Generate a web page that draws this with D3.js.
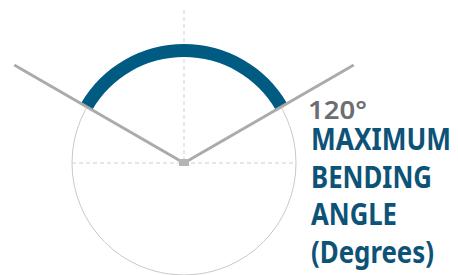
<!DOCTYPE html>
<html>
<head>
<meta charset="utf-8">
<script src="https://cdn.jsdelivr.net/npm/d3@7"></script>
<style>
  html, body { margin: 0; padding: 0; background: #fff; }
  svg { display: block; }
</style>
</head>
<body>
<div id="chart"></div>
<script>
// chart values
const maxAngle = [120];
const angleLabel = ["120°"];
const titleLines = ["MAXIMUM", "BENDING", "ANGLE", "(Degrees)"];

const width = 458, height = 275;
const cx = 184, cy = 163, radius = 112;

const svg = d3.select("#chart")
  .append("svg")
  .attr("width", width)
  .attr("height", height);

// degrees -> radians, 0 = straight up
const angleScale = d3.scaleLinear().domain([0, 360]).range([0, 2 * Math.PI]);

const g = svg.append("g").attr("transform", `translate(${cx},${cy})`);

// outline circle
g.append("circle")
  .attr("r", radius)
  .attr("fill", "none")
  .attr("stroke", "#c9c9c9")
  .attr("stroke-width", 1);

// dashed crosshair
g.append("line")
  .attr("x1", -radius).attr("x2", radius)
  .attr("y1", 0).attr("y2", 0)
  .attr("stroke", "#cfcfcf")
  .attr("stroke-dasharray", "4,3");

g.append("line")
  .attr("x1", 0).attr("x2", 0)
  .attr("y1", -153).attr("y2", 0)
  .attr("stroke", "#cfcfcf")
  .attr("stroke-dasharray", "4,3");

// the bending arc
const half = maxAngle[0] / 2;
const arc = d3.arc()
  .innerRadius(radius - 6)
  .outerRadius(radius + 7)
  .startAngle(angleScale(-half))
  .endAngle(angleScale(half));

g.append("path")
  .attr("d", arc())
  .attr("fill", "#005b82");

// the two arms
const armLength = 196;
[-half, half].forEach(a => {
  const t = angleScale(a);
  g.append("line")
    .attr("x1", 0).attr("y1", 0)
    .attr("x2", Math.sin(t) * armLength)
    .attr("y2", -Math.cos(t) * armLength)
    .attr("stroke", "#ababab")
    .attr("stroke-width", 3);
});

// pivot
g.append("rect")
  .attr("x", -5).attr("y", -4)
  .attr("width", 10).attr("height", 7)
  .attr("fill", "#b5b5b5");

// labels
svg.append("text")
  .attr("x", 308)
  .attr("y", 119)
  .attr("font-family", "Noto Sans, sans-serif")
  .attr("font-weight", 600)
  .attr("font-size", 26)
  .attr("fill", "#6d6e71")
  .attr("textLength", 59)
  .attr("lengthAdjust", "spacingAndGlyphs")
  .text(angleLabel[0]);

const lineWidths = [140, 121, 86, 123];
svg.append("g")
  .selectAll("text")
  .data(titleLines)
  .enter()
  .append("text")
  .attr("x", 311)
  .attr("y", (d, i) => 150 + i * 37.7)
  .attr("font-family", "Noto Sans, sans-serif")
  .attr("font-weight", 700)
  .attr("font-size", 30)
  .attr("fill", "#0d5277")
  .attr("textLength", (d, i) => lineWidths[i])
  .attr("lengthAdjust", "spacingAndGlyphs")
  .text(d => d);
</script>
</body>
</html>
